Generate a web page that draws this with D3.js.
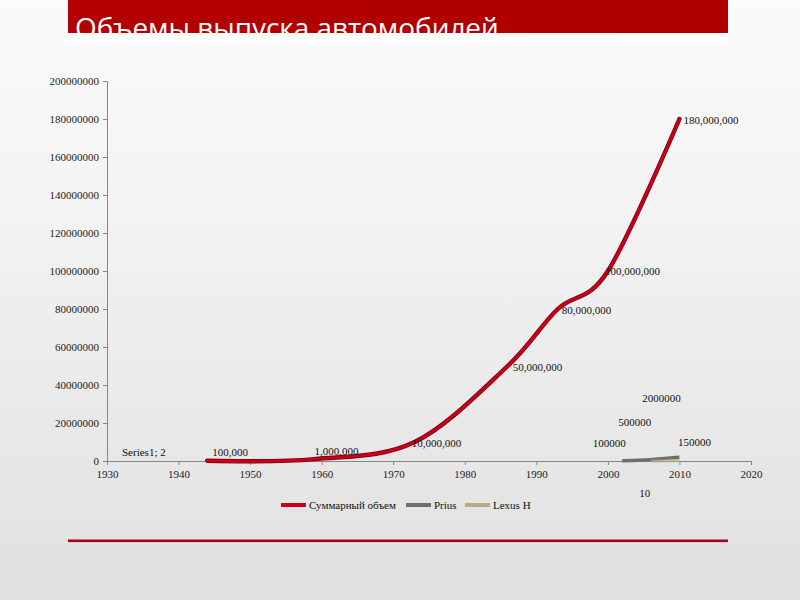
<!DOCTYPE html>
<html><head><meta charset="utf-8">
<script src="https://cdn.jsdelivr.net/npm/d3@7"></script>
<style>html,body{margin:0;padding:0;}svg{display:block;}</style>
</head><body>
<script>
// ---- data ----
const title = "Объемы выпуска автомобилей";
const seriesNames = ["Суммарный объем", "Prius", "Lexus H"];
const totalYears = [1944, 1959, 1973, 1986, 1993, 2000, 2010];
const totalValues = [100000, 1000000, 10000000, 50000000, 80000000, 100000000, 180000000];
const priusYears = [2002, 2005, 2010];
const priusValues = [100000, 500000, 2000000];
const lexusYears = [2006, 2010];
const lexusValues = [10, 150000];
const strayYears = [1930];
const strayValues = [2];
const xTicks = [1930, 1940, 1950, 1960, 1970, 1980, 1990, 2000, 2010, 2020];
const yTicks = [0, 20000000, 40000000, 60000000, 80000000, 100000000, 120000000, 140000000, 160000000, 180000000, 200000000];

// ---- layout (label offsets in px) ----
const totalLabelOffsets = [[5,-9],[0,-8],[-3,1],[5,1],[4,1],[-3,0],[4,1]];
const priusLabelOffsets = [[-13,-18],[-9,-38],[-18,-59]];
const lexusLabelOffsets = [[-6,32],[15,-19]];
const strayLabelOffsets = [[15,-9]];
const colors = ["#c80018", "#6e6e6e", "#b8ad80"];

const W = 800, H = 600;
const svg = d3.select("body").append("svg").attr("width", W).attr("height", H);
const defs = svg.append("defs");
const bg = defs.append("linearGradient").attr("id","bg").attr("x1",0).attr("y1",0).attr("x2",0).attr("y2",1);
bg.append("stop").attr("offset","0%").attr("stop-color","#fbfbfb");
bg.append("stop").attr("offset","35%").attr("stop-color","#f3f3f3");
bg.append("stop").attr("offset","100%").attr("stop-color","#e0e0e0");
svg.append("rect").attr("width",W).attr("height",H).attr("fill","url(#bg)");

const band = defs.append("linearGradient").attr("id","band").attr("x1",0).attr("y1",0).attr("x2",1).attr("y2",0);
band.append("stop").attr("offset","0%").attr("stop-color","#b40000");
band.append("stop").attr("offset","100%").attr("stop-color","#ae0000");
svg.append("rect").attr("x",68).attr("y",0).attr("width",660).attr("height",33).attr("fill","url(#band)");
svg.append("text").attr("x",75).attr("y",38).attr("fill","#ffffff")
  .style("font-family","'Open Sans', sans-serif").style("font-size","27.9px").style("font-weight",400)
  .text(title);

// white fade under band
svg.append("rect").attr("x",68).attr("y",33).attr("width",660).attr("height",10).attr("fill","#ffffff").attr("opacity",0.6);

// bottom rule
svg.append("rect").attr("x",68).attr("y",539.5).attr("width",660).attr("height",2.6).attr("fill","#a3001c");

// ---- scales ----
const x = d3.scaleLinear().domain([1930, 2020]).range([107, 751]);
const y = d3.scaleLinear().domain([0, 200000000]).range([461, 81]);

const serif = "'Liberation Serif', 'Times New Roman', serif";

// axes
const yAxis = svg.append("g").attr("transform","translate(107,0)")
  .call(d3.axisLeft(y).tickValues(yTicks).tickSize(4).tickPadding(4).tickFormat(d3.format("d")));
const xAxis = svg.append("g").attr("transform","translate(0,461)")
  .call(d3.axisBottom(x).tickValues(xTicks).tickSize(4).tickPadding(5).tickFormat(d3.format("d")));
[yAxis, xAxis].forEach(a => {
  a.select(".domain").attr("stroke","#868686");
  a.selectAll(".tick line").attr("stroke","#868686");
  a.selectAll("text").attr("fill","#222").style("font-family",serif).style("font-size","11px");
});

// lines
const line = d3.line().x(d => x(d[0])).y(d => y(d[1])).curve(d3.curveCardinal.tension(0));
const totalData = totalYears.map((t,i) => [t, totalValues[i]]);
const priusData = priusYears.map((t,i) => [t, priusValues[i]]);
const lexusData = lexusYears.map((t,i) => [t, lexusValues[i]]);

svg.append("path").datum(totalData).attr("d", line).attr("fill","none")
  .attr("stroke","#7a0010").attr("stroke-width",4.4).attr("stroke-linecap","round");
svg.append("path").datum(totalData).attr("d", line).attr("fill","none")
  .attr("stroke",colors[0]).attr("stroke-width",2.8).attr("stroke-linecap","round");
svg.append("path").datum(priusData).attr("d", line).attr("fill","none")
  .attr("stroke",colors[1]).attr("stroke-width",3.5);
svg.append("path").datum(lexusData).attr("d", line).attr("fill","none")
  .attr("stroke",colors[2]).attr("stroke-width",3).attr("opacity",0.7);

// labels
function labels(data, offs, fmt, anchor) {
  svg.append("g").selectAll("text").data(data).join("text")
    .attr("x", (d,i) => x(d[0]) + offs[i][0])
    .attr("y", (d,i) => y(d[1]) + offs[i][1])
    .attr("dy","0.35em")
    .attr("text-anchor", anchor)
    .attr("fill","#111")
    .style("font-family",serif).style("font-size","11px")
    .text(fmt);
}
labels(totalData, totalLabelOffsets, d => d3.format(",")(d[1]), "start");
labels(priusData, priusLabelOffsets, d => d3.format("d")(d[1]), "middle");
labels(lexusData, lexusLabelOffsets, d => d3.format("d")(d[1]), "middle");
labels(strayYears.map((t,i)=>[t, strayValues[i]]), strayLabelOffsets, d => "Series1; " + d[1], "start");

// legend
const legend = svg.append("g").attr("transform","translate(281,505)");
const legendX = [0, 125, 184];
seriesNames.forEach((n,i) => {
  const g = legend.append("g").attr("transform",`translate(${legendX[i]},0)`);
  g.append("line").attr("x1",0).attr("x2",25).attr("y1",0).attr("y2",0)
    .attr("stroke", colors[i]).attr("stroke-width",4);
  g.append("text").attr("x",28).attr("y",0).attr("dy","0.35em").attr("fill","#111")
    .style("font-family",serif).style("font-size","11px").text(n);
});
</script>
</body></html>
